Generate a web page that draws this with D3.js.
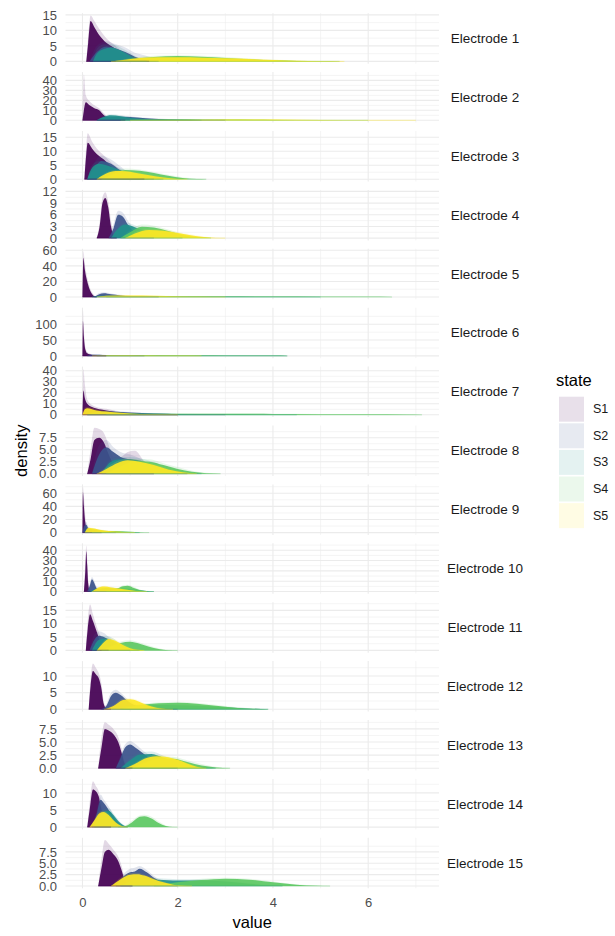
<!DOCTYPE html>
<html>
<head>
<meta charset="utf-8">
<script src="https://cdn.jsdelivr.net/npm/d3@7"></script>
<style>
  body { margin: 0; background: #fff; }
  svg { display: block; font-family: "Liberation Sans", Arial, sans-serif; }
</style>
</head>
<body>
<svg id="chart" width="615" height="936"></svg>
<script>
// facets and legend
const electrodes = ['Electrode 1', 'Electrode 2', 'Electrode 3', 'Electrode 4', 'Electrode 5',
  'Electrode 6', 'Electrode 7', 'Electrode 8', 'Electrode 9', 'Electrode 10',
  'Electrode 11', 'Electrode 12', 'Electrode 13', 'Electrode 14', 'Electrode 15'];
const states = ['S1', 'S2', 'S3', 'S4', 'S5'];

// y tick labels per facet (free scales)
const yTicks = [
  [0, 5, 10, 15], [0, 10, 20, 30, 40], [0, 5, 10, 15], [0, 3, 6, 9, 12], [0, 20, 40, 60],
  [0, 50, 100], [0, 10, 20, 30, 40], [0, 2.5, 5, 7.5], [0, 20, 40, 60], [0, 10, 20, 30, 40],
  [0, 5, 10, 15], [0, 5, 10], [0, 2.5, 5, 7.5], [0, 5, 10], [0, 2.5, 5, 7.5]
];
const xTicks = [0, 2, 4, 6];

// density: [value, dense core, faint upper edge of the trial curves]
const s1 = [
  [[0.08,0,0],[0.12,6,8],[0.17,13,14.8],[0.25,11,13],[0.35,8.5,10.5],[0.5,6,7.5],[0.65,4.5,5.5],[0.85,2,3],[1.1,0.4,1],[1.4,0,0.2]],
  [[0,0,0],[0.03,10,46],[0.07,18,25],[0.15,15,19],[0.25,12,15],[0.35,10,12],[0.45,5,7],[0.55,2,3],[0.7,0.5,1],[0.9,0,0.2]],
  [[0.04,0,0],[0.08,9,12],[0.11,13,16.4],[0.2,11,13.5],[0.3,9,11],[0.45,7,8.5],[0.6,4.5,6],[0.8,2,3.5],[1.0,0.6,1.5],[1.3,0,0.3]],
  [[0.3,0,0],[0.36,3,4],[0.42,9,10.5],[0.48,10.3,11.8],[0.54,8,9.5],[0.6,3,4.5],[0.66,0.5,1],[0.72,0,0]],
  [[0,0,0],[0.02,50,59],[0.05,35,42],[0.1,20,25],[0.15,10,13],[0.2,4,6],[0.25,1,2],[0.3,0,0.5]],
  [[0,0,0],[0.01,110,145],[0.03,60,80],[0.06,20,28],[0.1,8,12],[0.2,3,5],[0.35,1,2],[0.5,0,0.5]],
  [[0,0,0],[0.02,22,41.7],[0.05,15,28],[0.1,10,14],[0.2,7,9],[0.35,5,6.5],[0.5,4,5.5],[0.7,2.5,3.5],[0.9,1.5,2],[1.2,0.7,1],[1.6,0.2,0.4],[2.0,0,0.1]],
  [[0.1,0,0],[0.17,3,5],[0.25,7,9.56],[0.35,7.5,9.3],[0.45,6.5,8.5],[0.55,4,6],[0.65,2,3.5],[0.8,1,3.5],[0.95,1.5,4.5],[1.1,1.5,4.8],[1.3,0.5,2.5],[1.5,0,0.5]],
  [[0,0,0],[0.01,62,70],[0.03,40,55],[0.06,15,25],[0.1,5,8],[0.15,2,3],[0.25,0.5,1],[0.4,0,0]],
  [[0.03,0,0],[0.06,20,30],[0.08,39,44.5],[0.1,25,32],[0.12,8,12],[0.15,1,3],[0.18,0,0]],
  [[0.07,0,0],[0.11,8,11],[0.16,13.5,17.2],[0.22,11,13.5],[0.3,7,9],[0.38,3,5],[0.45,1,2],[0.55,0,0.5]],
  [[0.13,0,0],[0.17,7,9],[0.22,11.5,13.8],[0.28,10.5,12.5],[0.35,9,10.5],[0.4,6,7.5],[0.44,2,3],[0.5,0.3,0.6],[0.6,0,0]],
  [[0.33,0,0],[0.4,4,6],[0.47,7.5,8.76],[0.55,7.2,8.3],[0.65,6.5,7.5],[0.75,5,6],[0.82,3,3.8],[0.88,1,1.5],[0.95,0.2,0.4],[1.05,0,0]],
  [[0.1,0,0],[0.15,5,7],[0.22,11,13.4],[0.28,10.5,12],[0.34,9,10.5],[0.4,5,7],[0.45,2,3],[0.52,0.3,0.6],[0.6,0,0]],
  [[0.33,0,0],[0.4,4,6],[0.47,7.5,10.1],[0.55,8,9.3],[0.65,7,8],[0.75,5.5,6.5],[0.82,3.5,4.5],[0.88,1.5,2],[0.95,0.3,0.5],[1.05,0,0]]
];
const s2 = [
  [[0.15,0,0],[0.3,3,5],[0.5,4.8,6.5],[0.7,4.2,5.5],[0.9,3,4.5],[1.1,1.5,2.8],[1.3,0.5,2],[1.6,0,0.4]],
  [[0.3,0,0],[0.5,3,4],[0.8,3.5,4.5],[1.2,2.5,3],[1.6,1.2,1.8],[2.0,0.5,0.8],[2.5,0.1,0.2],[3.0,0,0]],
  [[0.1,0,0],[0.25,4,6],[0.4,6.5,8.5],[0.6,5.5,7],[0.8,3,4.5],[1.0,1.2,2],[1.3,0.2,0.5],[1.5,0,0]],
  [[0.55,0,0],[0.65,2.5,3.5],[0.75,6,7],[0.85,5.5,6.5],[0.95,3.5,4.5],[1.1,1.5,2.2],[1.3,0.4,0.8],[1.5,0,0.1]],
  [[0.25,0,0],[0.35,3.5,5],[0.45,4.8,6],[0.6,3.5,4.5],[0.8,2,2.8],[1.0,1,1.5],[1.3,0.3,0.5],[1.6,0,0]],
  [[0.1,0,0],[0.2,4,5],[0.35,4,5],[0.5,2.5,3],[0.7,1,1.5],[1.0,0.3,0.5],[1.3,0,0]],
  [[0.1,0,0],[0.3,3,4],[0.6,3,4],[1.0,2,2.5],[1.5,1.2,1.5],[2.0,0.6,0.8],[2.5,0.2,0.3],[3.0,0,0]],
  [[0.2,0,0],[0.35,4,6],[0.5,5.5,7],[0.65,4.5,5.5],[0.8,3.5,4.5],[1.0,3,4],[1.2,2.5,3.2],[1.4,1.5,2],[1.7,0.5,1],[2.0,0.1,0.3],[2.2,0,0]],
  [[0,0,0],[0.04,10,15],[0.08,12,16],[0.12,7,9],[0.2,3,4],[0.35,1,1.5],[0.5,0.3,0.5],[0.7,0,0]],
  [[0.1,0,0],[0.15,5,7],[0.2,12,14],[0.25,8,10],[0.3,3,4.5],[0.4,1.5,2],[0.6,1,1.3],[0.8,0.5,0.7],[1.0,0,0.2]],
  [[0.15,0,0],[0.25,4,6],[0.35,5.5,7.2],[0.45,5,6.5],[0.55,4,5],[0.7,2,3],[0.85,0.7,1.2],[1.0,0,0.2]],
  [[0.38,0,0],[0.5,1,1.5],[0.6,4,5],[0.7,5,5.9],[0.8,4.3,5],[0.95,2.5,3],[1.1,1.2,1.6],[1.3,0.6,0.9],[1.6,0.3,0.5],[2.0,0,0.1]],
  [[0.7,0,0],[0.8,2,2.5],[0.9,4,4.6],[1.0,4.5,5.2],[1.1,4,4.7],[1.25,3,3.5],[1.4,2,2.5],[1.6,1,1.3],[1.8,0.3,0.5],[2.0,0,0]],
  [[0.2,0,0],[0.3,4,5],[0.38,8,9.5],[0.45,7,8],[0.55,5,6],[0.65,3,3.5],[0.75,1,1.5],[0.85,0.2,0.4],[0.95,0,0]],
  [[0.7,0,0],[0.85,2,2.5],[1.0,3,3.8],[1.1,3.2,4],[1.2,3.8,4.4],[1.35,3,3.5],[1.5,1.8,2.2],[1.65,1,1.3],[1.8,0.4,0.6],[2.0,0,0.1]]
];
const s3 = [
  [[0.22,0,0],[0.3,2.5,4],[0.45,4,5.5],[0.6,4.5,5.5],[0.8,3.5,4.5],[1.0,1.8,2.8],[1.15,0.6,1.3],[1.35,0,0.3]],
  [[0.3,0,0],[0.45,3.5,4.5],[0.6,5,6],[0.8,4,5],[1.0,2.5,3.5],[1.3,1.2,2],[1.6,0.5,1],[2.0,0.2,0.4],[2.5,0,0]],
  [[0.1,0,0],[0.2,4,5],[0.35,5.5,6.5],[0.5,5,6],[0.7,3.8,4.5],[0.9,2.5,3.2],[1.1,1.3,2],[1.4,0.3,0.6],[1.7,0,0]],
  [[0.6,0,0],[0.75,2.5,3],[0.9,3.5,4],[1.1,2.8,3.3],[1.3,1.8,2.2],[1.6,0.6,1],[1.9,0.1,0.2],[2.1,0,0]],
  [[0.2,0,0],[0.4,1.5,2],[0.7,1.5,2],[1.0,1,1.3],[1.5,0.6,0.8],[2.0,0.4,0.5],[3.0,0.2,0.3],[4.0,0.1,0.15],[5.0,0,0.05]],
  [[0.3,0,0],[0.6,1.5,2],[1.0,1.2,1.6],[2.0,0.8,1],[3.0,0.5,0.6],[4.0,0.1,0.2],[4.3,0,0]],
  [[0.1,0,0],[0.3,2,3],[0.7,1.8,2.2],[1.2,1.2,1.5],[2.0,0.8,1],[3.0,0.4,0.5],[4.0,0.1,0.2],[4.5,0,0]],
  [[0.4,0,0],[0.6,2.5,3],[0.8,3,3.5],[1.0,3,3.5],[1.3,2.5,3],[1.6,1.5,2],[1.9,0.7,1],[2.2,0.2,0.4],[2.5,0,0]],
  [[0.05,0,0],[0.1,6,8],[0.2,5,6.5],[0.4,3,4],[0.6,1.5,2],[0.9,0.5,0.8],[1.2,0,0.1]],
  [[0.15,0,0],[0.3,2.5,3.5],[0.5,3.5,4.5],[0.7,3,3.5],[0.9,3,3.5],[1.1,2,2.5],[1.3,0.8,1],[1.5,0,0.2]],
  [[0.2,0,0],[0.35,4,5],[0.5,4.5,5.5],[0.65,3.5,4.5],[0.8,2,2.5],[1.0,0.7,1],[1.2,0,0.2]],
  [[0.6,0,0],[1.0,1,1.3],[1.5,1.3,1.6],[2.0,1.2,1.5],[2.5,1,1.2],[3.0,0.6,0.8],[3.5,0.2,0.3],[3.9,0,0]],
  [[0.8,0,0],[1.0,1.5,2],[1.2,2.6,3],[1.45,2.7,3.2],[1.7,2,2.4],[2.0,1.2,1.5],[2.3,0.5,0.7],[2.6,0.1,0.2],[2.8,0,0]],
  [[0.25,0,0],[0.35,3,3.5],[0.45,4.5,5.2],[0.55,4.8,5.5],[0.65,3.5,4],[0.75,1.8,2.2],[0.85,0.6,0.8],[0.95,0,0.1]],
  [[0.8,0,0],[1.2,1.5,1.8],[1.6,1.4,1.7],[2.0,1.2,1.5],[2.5,1.2,1.5],[3.0,1,1.2],[3.5,0.5,0.7],[3.9,0.15,0.25],[4.2,0,0]]
];
const s4 = [
  [[0.7,0,0],[1.0,0.6,0.9],[1.5,1.4,1.8],[2.0,1.75,2.0],[2.5,1.5,1.8],[3.0,1.1,1.4],[3.5,0.7,0.9],[4.0,0.35,0.5],[4.5,0.15,0.25],[5.0,0.03,0.1],[5.4,0,0]],
  [[0.8,0,0],[1.5,0.8,1.2],[2.0,1.0,1.3],[2.5,0.9,1.1],[3.0,0.7,0.9],[4.0,0.35,0.5],[5.0,0.1,0.2],[6.0,0,0]],
  [[0.4,0,0],[0.6,1.5,2],[0.9,3.3,3.8],[1.2,3,3.5],[1.5,2.2,2.6],[1.8,1.2,1.6],[2.1,0.4,0.7],[2.4,0.05,0.2],[2.6,0,0]],
  [[0.8,0,0],[1.0,1.5,2],[1.25,2.9,3.5],[1.5,2.7,3.2],[1.8,1.8,2.2],[2.1,0.8,1.1],[2.4,0.2,0.4],[2.7,0,0]],
  [[0.5,0,0],[1.0,0.8,1],[2.0,0.8,1],[3.0,0.6,0.8],[4.0,0.5,0.6],[5.0,0.4,0.5],[6.0,0.2,0.3],[6.5,0,0]],
  [[0.5,0,0],[1.0,1,1.3],[1.5,1.5,2],[2.0,1.5,2],[2.5,1.2,1.5],[3.0,0.8,1],[3.5,0.4,0.5],[4.0,0.1,0.2],[4.3,0,0]],
  [[0.5,0,0],[1.0,0.8,1],[2.0,1,1.2],[3.0,1,1.2],[4.0,0.8,1],[5.0,0.6,0.8],[6.0,0.4,0.5],[6.8,0.2,0.3],[7.13,0,0]],
  [[0.5,0,0],[0.8,1.5,2],[1.1,2.6,3],[1.4,2.5,3],[1.7,1.8,2.2],[2.0,1,1.4],[2.3,0.4,0.6],[2.6,0.1,0.2],[2.9,0,0]],
  [[0.2,0,0],[0.4,2.5,3],[0.6,2.5,3],[0.8,2,2.5],[1.0,1.2,1.5],[1.2,0.4,0.6],[1.4,0,0.1]],
  [[0.5,0,0],[0.7,2,2.5],[0.85,5,6],[0.95,5.5,6.5],[1.05,4,5],[1.2,1.5,2],[1.35,0.3,0.6],[1.5,0,0]],
  [[0.4,0,0],[0.6,1.5,2],[0.8,2.8,3.3],[1.0,3.2,3.8],[1.2,2.5,3],[1.4,1.4,1.8],[1.6,0.5,0.8],[1.8,0.1,0.2],[2.0,0,0]],
  [[0.8,0,0],[1.2,1.2,1.5],[1.6,1.8,2.1],[2.0,2,2.3],[2.4,1.7,2],[2.8,1.1,1.4],[3.2,0.5,0.7],[3.6,0.15,0.25],[3.9,0,0]],
  [[1.0,0,0],[1.3,1,1.3],[1.6,1.8,2.2],[1.9,1.8,2.2],[2.2,1.2,1.5],[2.5,0.5,0.8],[2.8,0.15,0.3],[3.1,0,0.05]],
  [[0.75,0,0],[0.9,0.3,0.5],[1.05,1.5,2],[1.2,3,3.4],[1.3,3.2,3.6],[1.45,2.5,3],[1.6,1.2,1.6],[1.75,0.3,0.5],[1.9,0,0.1],[2.0,0,0]],
  [[1.5,0,0],[2.0,0.8,1],[2.5,1.3,1.6],[3.0,1.6,1.8],[3.5,1.4,1.6],[4.0,0.8,1],[4.5,0.3,0.4],[4.9,0.05,0.1],[5.2,0,0]]
];
const s5 = [
  [[0.6,0,0],[0.9,0.5,0.8],[1.2,1.1,1.4],[1.6,1.3,1.6],[2.0,1.3,1.6],[2.5,1.2,1.4],[3.0,1.0,1.2],[3.5,0.75,0.9],[4.0,0.45,0.6],[4.5,0.2,0.3],[5.0,0.05,0.1],[5.5,0,0]],
  [[1.0,0,0],[2.0,0.4,0.6],[3.0,0.8,1.0],[4.0,0.7,0.9],[5.0,0.4,0.5],[6.0,0.15,0.25],[6.8,0.02,0.05],[7.0,0,0]],
  [[0.3,0,0],[0.5,2,2.4],[0.7,2.9,3.3],[0.9,2.8,3.1],[1.1,2.3,2.6],[1.4,1.4,1.7],[1.7,0.6,0.8],[2.0,0.1,0.2],[2.2,0,0]],
  [[0.9,0,0],[1.1,1.2,1.5],[1.4,2.1,2.4],[1.7,1.9,2.2],[2.0,1.3,1.6],[2.3,0.7,0.9],[2.6,0.25,0.35],[2.8,0.05,0.1],[3.0,0,0]],
  [[0.3,0,0],[0.5,1.5,2],[1.0,1.8,2.2],[1.5,1.5,1.8],[2.0,0.8,1],[2.5,0.3,0.4],[3.0,0,0.1]],
  [[0.2,0,0],[0.4,1.5,2],[0.8,2,2.5],[1.2,1.5,2],[1.6,0.8,1.2],[2.0,0.3,0.5],[2.5,0,0.1]],
  [[0,0,0],[0.05,5,6.5],[0.1,6,7],[0.3,4,5],[0.5,3,3.5],[0.8,1.8,2.2],[1.2,0.8,1],[1.6,0.3,0.4],[2.0,0,0.1]],
  [[0.3,0,0],[0.5,1,1.3],[0.75,2.3,2.7],[0.95,2.8,3.1],[1.2,2.5,2.8],[1.5,1.8,2],[1.8,0.9,1.1],[2.1,0.3,0.4],[2.4,0,0.05]],
  [[0.05,0,0],[0.12,7,8.5],[0.2,6.5,7.5],[0.35,4.5,5],[0.5,3,3.5],[0.7,1.5,2],[0.9,0.5,0.8],[1.1,0,0.1]],
  [[0.2,0,0],[0.3,3,3.5],[0.45,4.8,5.5],[0.6,4,4.5],[0.75,3,3.5],[0.9,2,2.5],[1.05,1,1.3],[1.2,0.3,0.5],[1.35,0,0]],
  [[0.3,0,0],[0.42,2.5,3],[0.55,4.3,4.8],[0.7,3.5,4],[0.85,2,2.5],[1.0,0.8,1.1],[1.15,0.2,0.4],[1.3,0,0]],
  [[0.45,0,0],[0.65,1,1.3],[0.85,2.8,3.2],[1.0,3,3.3],[1.15,2.5,2.8],[1.35,1.3,1.6],[1.55,0.5,0.7],[1.75,0.1,0.2],[1.9,0,0]],
  [[0.9,0,0],[1.1,0.8,1],[1.3,1.8,2],[1.55,2.3,2.5],[1.8,2.1,2.3],[2.0,1.6,1.8],[2.2,0.9,1.1],[2.4,0.3,0.4],[2.6,0,0.05]],
  [[0.15,0,0],[0.25,2,2.3],[0.35,4,4.5],[0.44,4.4,4.8],[0.55,3.5,4],[0.65,2,2.4],[0.75,0.8,1],[0.85,0.2,0.3],[0.95,0,0]],
  [[0.6,0,0],[0.8,1.5,1.8],[1.0,2.5,2.8],[1.15,2.6,2.9],[1.3,2.3,2.5],[1.5,1.5,1.8],[1.7,0.8,1],[1.9,0.3,0.4],[2.1,0.05,0.1],[2.3,0,0]]
];
const curvesByState = [s1, s2, s3, s4, s5];

const colors = ['#440154', '#3B528B', '#21908C', '#5DC863', '#FDE725'];

const svg = d3.select('#chart');

// layout
const panelLeft = 65.5, panelRight = 439;
const panelTop = 13.2, panelStep = 58.9, panelH = 50.5;

const allX = curvesByState.flat(2).map(d => d[0]);
const xMin = d3.min(allX), xMax = d3.max(allX);
const xPad = (xMax - xMin) * 0.05;
const x = d3.scaleLinear().domain([xMin - xPad, xMax + xPad]).range([panelLeft, panelRight]);

const gridColor = '#EBEBEB';

electrodes.forEach((name, i) => {
  const top = panelTop + i * panelStep;
  const ymax = d3.max(curvesByState, s => d3.max(s[i], d => d[2]));
  const y = d3.scaleLinear().domain([-0.05 * ymax, 1.05 * ymax]).range([top + panelH, top]);
  const [y0, y1] = y.domain();

  const g = svg.append('g');

  // minor grid
  const step = yTicks[i][1] - yTicks[i][0];
  const minorY = [yTicks[i][0] - step / 2].concat(yTicks[i].map(t => t + step / 2))
    .filter(v => v >= y0 && v <= y1);
  g.selectAll('.hminor').data(minorY).enter().append('line')
    .attr('x1', panelLeft).attr('x2', panelRight)
    .attr('y1', d => y(d)).attr('y2', d => y(d))
    .attr('stroke', gridColor).attr('stroke-width', 0.55);
  g.selectAll('.vminor').data([1, 3, 5, 7]).enter().append('line')
    .attr('x1', d => x(d)).attr('x2', d => x(d))
    .attr('y1', top).attr('y2', top + panelH)
    .attr('stroke', gridColor).attr('stroke-width', 0.55);
  // major grid
  g.selectAll('.hmajor').data(yTicks[i]).enter().append('line')
    .attr('x1', panelLeft).attr('x2', panelRight)
    .attr('y1', d => y(d)).attr('y2', d => y(d))
    .attr('stroke', gridColor).attr('stroke-width', 1.1);
  g.selectAll('.vmajor').data(xTicks).enter().append('line')
    .attr('x1', d => x(d)).attr('x2', d => x(d))
    .attr('y1', top).attr('y2', top + panelH)
    .attr('stroke', gridColor).attr('stroke-width', 1.1);

  // densities, S1 first, S5 on top
  curvesByState.forEach((s, k) => {
    const pts = s[i];
    const halo = d3.area().x(d => x(d[0])).y0(y(0)).y1(d => y(d[2])).curve(d3.curveMonotoneX);
    const core = d3.area().x(d => x(d[0])).y0(y(0)).y1(d => y(d[1])).curve(d3.curveMonotoneX);
    g.append('path').attr('d', halo(pts)).attr('fill', colors[k]).attr('fill-opacity', 0.15);
    g.append('path').attr('d', core(pts)).attr('fill', colors[k]).attr('fill-opacity', 0.92);
  });
  // baseline where the curves' outlines pile up
  curvesByState.forEach((s, k) => {
    const pts = s[i];
    g.append('line')
      .attr('x1', x(pts[0][0])).attr('x2', x(pts[pts.length - 1][0]))
      .attr('y1', y(0)).attr('y2', y(0))
      .attr('stroke', colors[k]).attr('stroke-width', 0.8).attr('stroke-opacity', k === 0 ? 0.9 : 0.5);
  });

  // y axis labels
  const dec = yTicks[i].some(t => t % 1 !== 0);
  const yAxis = g.append('g')
    .attr('transform', `translate(${panelLeft},0)`)
    .call(d3.axisLeft(y).tickValues(yTicks[i]).tickSize(0).tickPadding(8.5)
      .tickFormat(d => dec ? d.toFixed(1) : d));
  yAxis.select('.domain').remove();
  yAxis.selectAll('text').attr('fill', '#4D4D4D').style('font-size', '13px')
    .style('font-family', '"Liberation Sans", Arial, sans-serif');

  // strip label
  g.append('text')
    .attr('x', 485).attr('y', top + panelH / 2)
    .attr('text-anchor', 'middle').attr('dominant-baseline', 'central')
    .attr('fill', '#1A1A1A').style('font-size', '13.5px')
    .text(name);
});

// x axis under the last panel
const bottom = panelTop + (electrodes.length - 1) * panelStep + panelH;
const xAxis = svg.append('g')
  .attr('transform', `translate(0,${bottom})`)
  .call(d3.axisBottom(x).tickValues(xTicks).tickSize(0).tickPadding(9.5));
xAxis.select('.domain').remove();
xAxis.selectAll('text').attr('fill', '#4D4D4D').style('font-size', '13px')
  .style('font-family', '"Liberation Sans", Arial, sans-serif');

// axis titles
svg.append('text')
  .attr('x', (panelLeft + panelRight) / 2).attr('y', 928)
  .attr('text-anchor', 'middle').style('font-size', '16.5px')
  .text('value');
svg.append('text')
  .attr('transform', `translate(27,${(panelTop + bottom) / 2}) rotate(-90)`)
  .attr('text-anchor', 'middle').style('font-size', '16.5px')
  .text('density');

// legend
const legend = svg.append('g').attr('transform', 'translate(556,0)');
legend.append('text').attr('x', 0).attr('y', 386).style('font-size', '16.5px').text('state');
states.forEach((s, k) => {
  const ky = 396.7 + k * 26.6;
  legend.append('rect')
    .attr('x', 3).attr('y', ky).attr('width', 25).attr('height', 25)
    .attr('fill', colors[k]).attr('fill-opacity', 0.12);
  legend.append('text')
    .attr('x', 37).attr('y', ky + 12.5).attr('dominant-baseline', 'central')
    .style('font-size', '12.5px').attr('fill', '#1A1A1A')
    .text(s);
});
</script>
</body>
</html>
